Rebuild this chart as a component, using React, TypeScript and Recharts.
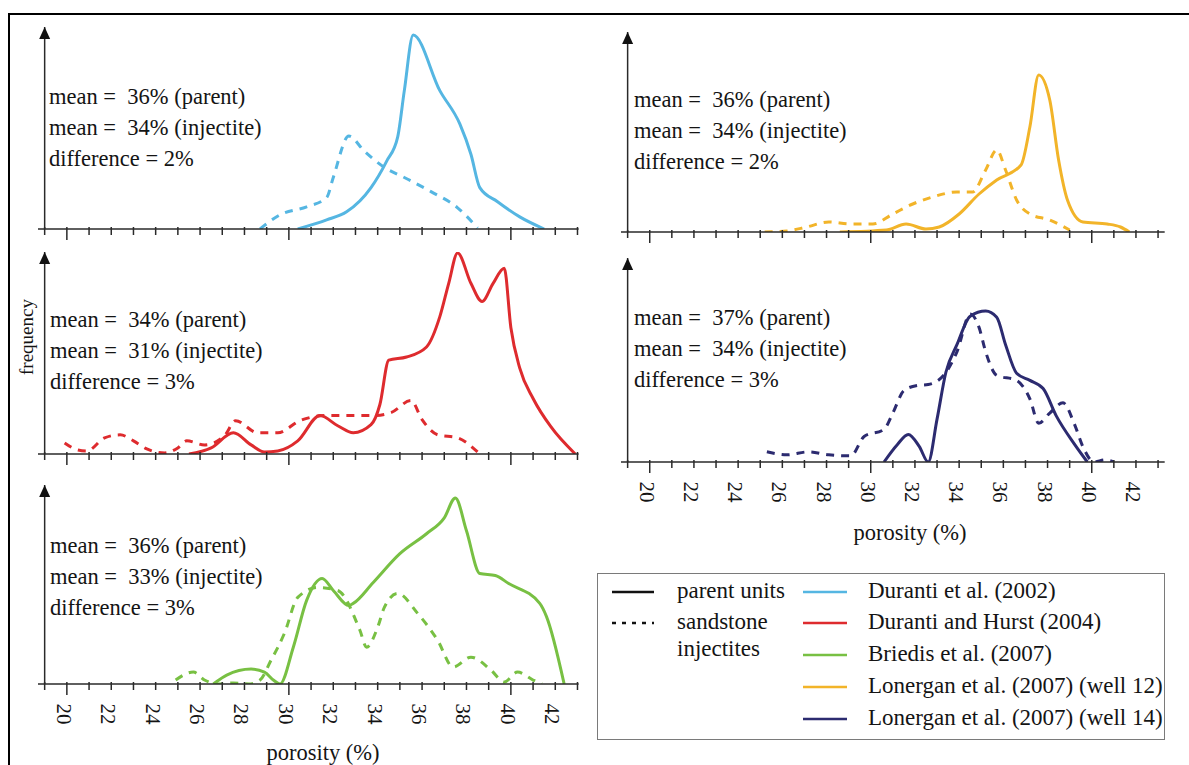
import React from "react";
import { LineChart, Line, XAxis, YAxis, ReferenceLine, ReferenceDot } from "recharts";

// porosity (%) vs relative frequency
const durantiParent = [[30.4, 0], [31.7, 9], [32.6, 17], [33.7, 41], [34.4, 67], [34.9, 91], [35.2, 137], [35.6, 192], [36.8, 137], [37.7, 104], [38.2, 74], [38.6, 41], [39.4, 27], [40.4, 12], [41.5, 0]];
const durantiInjectite = [[28.7, 0], [29.6, 14], [30.8, 22], [31.7, 31], [32.0, 51], [32.7, 92], [33.4, 77], [34.3, 61], [35.2, 51], [36.4, 37], [37.6, 21], [38.5, 1]];

const hurstParent = [[25.5, 0], [26.5, 6], [27.5, 21], [28.3, 9], [28.9, 2], [29.5, 3], [30.4, 13], [31.4, 38], [32.2, 28], [32.9, 21], [33.7, 29], [34.1, 49], [34.5, 93], [35.3, 96], [36.2, 106], [36.8, 136], [37.2, 169], [37.6, 199], [38.2, 169], [38.7, 151], [39.2, 169], [39.7, 184], [40.0, 125], [40.4, 85], [41.0, 55], [41.8, 27], [42.9, 0]];
const hurstInjectite = [[19.9, 11], [20.5, 4], [20.9, 3], [21.7, 16], [22.4, 19], [23.0, 13], [23.6, 5], [24.4, 1], [25.0, 6], [25.4, 13], [26.2, 9], [27.1, 18], [27.6, 33], [28.6, 21], [29.5, 21], [30.5, 33], [31.6, 38], [32.6, 38], [33.8, 38], [34.6, 41], [35.5, 53], [36.0, 34], [36.7, 19], [37.6, 16], [38.5, 2]];

const briedisParent = [[26.6, 0], [27.2, 9], [28.3, 15], [28.9, 12], [29.3, 4], [29.6, 0], [30.2, 37], [30.8, 84], [31.5, 106], [32.0, 94], [32.7, 79], [32.9, 81], [33.8, 102], [35.0, 131], [36.2, 151], [37.0, 167], [37.5, 187], [38.0, 154], [38.6, 111], [39.3, 109], [39.9, 101], [41.3, 81], [41.6, 68], [42.4, 0]];
const briedisInjectite = [[24.9, 4], [25.7, 12], [26.2, 4], [26.8, 0], [27.5, 1], [28.2, 0], [28.7, 4], [29.2, 24], [29.8, 51], [30.4, 87], [31.3, 97], [32.2, 94], [33.2, 54], [33.5, 37], [34.0, 57], [34.3, 77], [34.9, 91], [35.8, 71], [36.7, 44], [37.4, 17], [38.2, 27], [39.1, 14], [39.7, 2], [40.3, 12], [41.0, 4], [41.4, 0]];

const well12Parent = [[28.6, 0], [30.7, 2], [31.6, 8], [32.5, 3], [33.1, 5], [34.0, 18], [34.9, 38], [35.7, 52], [36.8, 67], [37.2, 105], [37.6, 157], [38.1, 132], [38.5, 72], [38.9, 32], [39.6, 10], [40.7, 8], [41.3, 5], [41.7, 0]];
const well12Injectite = [[25.2, 0], [26.2, 1], [27.1, 5], [28.1, 10], [29.1, 8], [30.1, 8], [31.0, 18], [31.9, 28], [32.8, 35], [33.9, 40], [34.6, 40], [35.2, 62], [35.7, 82], [36.1, 62], [36.6, 32], [37.2, 18], [38.1, 12], [39.0, 2]];

const well14Parent = [[30.6, 0], [31.2, 17], [31.7, 27], [32.2, 15], [32.6, 0], [33.0, 42], [33.4, 88], [33.9, 115], [34.5, 143], [35.2, 148], [35.7, 142], [36.1, 115], [36.6, 87], [37.2, 80], [37.8, 72], [38.4, 45], [39.2, 18], [39.8, 0]];
const well14Injectite = [[25.3, 10], [26.2, 7], [27.2, 10], [28.1, 7], [29.1, 6], [29.7, 25], [30.6, 32], [31.0, 48], [31.5, 70], [32.1, 75], [32.6, 76], [33.3, 85], [33.9, 108], [34.5, 145], [34.9, 132], [35.2, 108], [35.7, 85], [36.6, 80], [37.2, 62], [37.6, 38], [38.1, 48], [38.7, 58], [39.2, 38], [39.6, 15], [40.1, 0], [40.6, 2], [41.0, 0]];

const porosityTicks = [19, 20, 21, 22, 23, 24, 25, 26, 27, 28, 29, 30, 31, 32, 33, 34, 35, 36, 37, 38, 39, 40, 41, 42, 43];
const porosityLabels = [20, 22, 24, 26, 28, 30, 32, 34, 36, 38, 40, 42];
const majorTicks = [20, 30, 40];

const stats = {
  duranti: ["36", "34", "2"],
  hurst: ["34", "31", "3"],
  briedis: ["36", "33", "3"],
  well12: ["36", "34", "2"],
  well14: ["37", "34", "3"],
};

const BLUE = "#55b6e2";
const RED = "#de2b2e";
const GREEN = "#78c043";
const YELLOW = "#f2b429";
const NAVY = "#2c2b70";
const AXIS = "#2a2a2a";
const INK = "#141414";
const FONT = "'Liberation Serif', 'Times New Roman', serif";

const toPoints = (arr: number[][]) => arr.map(([x, y]) => ({ x, y }));

function ArrowHead(props: any) {
  const { cx, cy } = props;
  return <path d={`M${cx},${cy} L${cx - 5.5},${cy + 12} L${cx + 5.5},${cy + 12} Z`} fill="#111" />;
}

function makeTick(showLabels: boolean) {
  return (props: any) => {
    const { x, y, payload } = props;
    const v = payload.value;
    const major = majorTicks.includes(v);
    const lx = x - 3;
    const ly = y + 30;
    return (
      <g>
        <line x1={x} x2={x} y1={y - 2} y2={y + (major ? 11 : 6)} stroke={AXIS} strokeWidth={1.5} />
        {showLabels && porosityLabels.includes(v) && (
          <text x={lx} y={ly} transform={`rotate(90 ${lx} ${ly})`} textAnchor="middle" dominantBaseline="central"
            fontFamily={FONT} fontSize={21} fill={INK}>{v}</text>
        )}
      </g>
    );
  };
}

type PanelProps = {
  left: number; top: number; width: number; height: number; domain: [number, number];
  parent: number[][]; injectite: number[][]; color: string; labels?: boolean; s: string[];
  textX: number; textY: number;
};

function Panel({ left, top, width, height, domain, parent, injectite, color, labels = false, s, textX, textY }: PanelProps) {
  const pad = 14;
  const axisH = 60;
  return (
    <>
      <div style={{ position: "absolute", left: left - pad, top: top - pad }}>
        <LineChart width={width + 2 * pad} height={height + pad + axisH} margin={{ top: pad, right: pad, left: pad, bottom: 0 }} style={{ overflow: "visible" }}>
          <XAxis type="number" dataKey="x" domain={domain} allowDataOverflow ticks={porosityTicks} interval={0}
            height={axisH} tickSize={0} tickMargin={0} tickLine={false}
            axisLine={{ stroke: AXIS, strokeWidth: 1.5 }} tick={makeTick(labels)} />
          <YAxis hide type="number" domain={[0, 200]} allowDataOverflow />
          <ReferenceLine x={19} stroke={AXIS} strokeWidth={1.5} />
          <ReferenceDot x={19} y={200} r={0} shape={ArrowHead} />
          <Line data={toPoints(injectite)} dataKey="y" type="monotone" stroke={color} strokeWidth={3}
            strokeDasharray="8 7" dot={false} isAnimationActive={false} />
          <Line data={toPoints(parent)} dataKey="y" type="monotone" stroke={color} strokeWidth={3}
            dot={false} isAnimationActive={false} />
        </LineChart>
      </div>
      <div style={{ position: "absolute", left: textX, top: textY, fontFamily: FONT, fontSize: 22.5, lineHeight: "31px", color: INK, whiteSpace: "pre" }}>
        <div>{`mean =  ${s[0]}% (parent)`}</div>
        <div>{`mean =  ${s[1]}% (injectite)`}</div>
        <div>{`difference = ${s[2]}%`}</div>
      </div>
    </>
  );
}

function LegendBox() {
  const rows = [
    { label: "Duranti et al. (2002)", color: BLUE },
    { label: "Duranti and Hurst (2004)", color: RED },
    { label: "Briedis et al. (2007)", color: GREEN },
    { label: "Lonergan et al. (2007) (well 12)", color: YELLOW },
    { label: "Lonergan et al. (2007) (well 14)", color: NAVY },
  ];
  const rowY = [592, 623, 655, 687, 719];
  const txt = { position: "absolute" as const, fontFamily: FONT, fontSize: 23, color: INK, whiteSpace: "nowrap" as const, lineHeight: "26px" };
  return (
    <>
      <div style={{ position: "absolute", left: 597, top: 573, width: 568, height: 167, border: "1.5px solid #7a7a7a", boxSizing: "border-box" }} />
      <svg style={{ position: "absolute", left: 0, top: 0 }} width={1189} height={765}>
        <line x1={612} x2={654} y1={592} y2={592} stroke="#111" strokeWidth={2.5} />
        <line x1={612} x2={654} y1={623} y2={623} stroke="#111" strokeWidth={2.5} strokeDasharray="4 6" />
        {rows.map((r, i) => (
          <line key={r.label} x1={803} x2={847} y1={rowY[i]} y2={rowY[i]} stroke={r.color} strokeWidth={2.5} />
        ))}
      </svg>
      <div style={{ ...txt, left: 677, top: 592 - 14 }}>parent units</div>
      <div style={{ ...txt, left: 677, top: 623 - 14 }}>sandstone</div>
      <div style={{ ...txt, left: 677, top: 650 - 14 }}>injectites</div>
      {rows.map((r, i) => (
        <div key={r.label} style={{ ...txt, left: 868, top: rowY[i] - 14 }}>{r.label}</div>
      ))}
    </>
  );
}

export default function App() {
  const leftDomain: [number, number] = [18.7, 43.05];
  const rightDomain: [number, number] = [18.7, 43.3];
  return (
    <div style={{ position: "relative", width: 1189, height: 765, overflow: "hidden", background: "#fff" }}>
      <style>{"body{margin:0;}"}</style>
      <div style={{ position: "absolute", left: 8, top: 13, width: 1400, height: 1000, borderTop: "2px solid #000", borderLeft: "2px solid #000" }} />

      <Panel left={37.8} top={27} width={540.6} height={202} domain={leftDomain}
        parent={durantiParent} injectite={durantiInjectite} color={BLUE} s={stats.duranti} textX={49} textY={97 - 16} />
      <Panel left={37.8} top={252} width={540.6} height={202} domain={leftDomain}
        parent={hurstParent} injectite={hurstInjectite} color={RED} s={stats.hurst} textX={50} textY={320 - 16} />
      <Panel left={37.8} top={485} width={540.6} height={199} domain={leftDomain} labels
        parent={briedisParent} injectite={briedisInjectite} color={GREEN} s={stats.briedis} textX={50} textY={546 - 16} />
      <Panel left={621.4} top={32} width={543.7} height={200} domain={rightDomain}
        parent={well12Parent} injectite={well12Injectite} color={YELLOW} s={stats.well12} textX={634} textY={100 - 16} />
      <Panel left={621.4} top={258} width={543.7} height={204} domain={rightDomain} labels
        parent={well14Parent} injectite={well14Injectite} color={NAVY} s={stats.well14} textX={634} textY={318 - 16} />

      <div style={{ position: "absolute", left: 27, top: 337, transform: "translate(-50%, -50%) rotate(-90deg)", fontFamily: FONT, fontSize: 19, color: INK }}>frequency</div>
      <div style={{ position: "absolute", left: 323, top: 753, transform: "translate(-50%, -50%)", fontFamily: FONT, fontSize: 22.5, color: INK, whiteSpace: "nowrap" }}>porosity (%)</div>
      <div style={{ position: "absolute", left: 910, top: 533, transform: "translate(-50%, -50%)", fontFamily: FONT, fontSize: 22.5, color: INK, whiteSpace: "nowrap" }}>porosity (%)</div>

      <LegendBox />
    </div>
  );
}
